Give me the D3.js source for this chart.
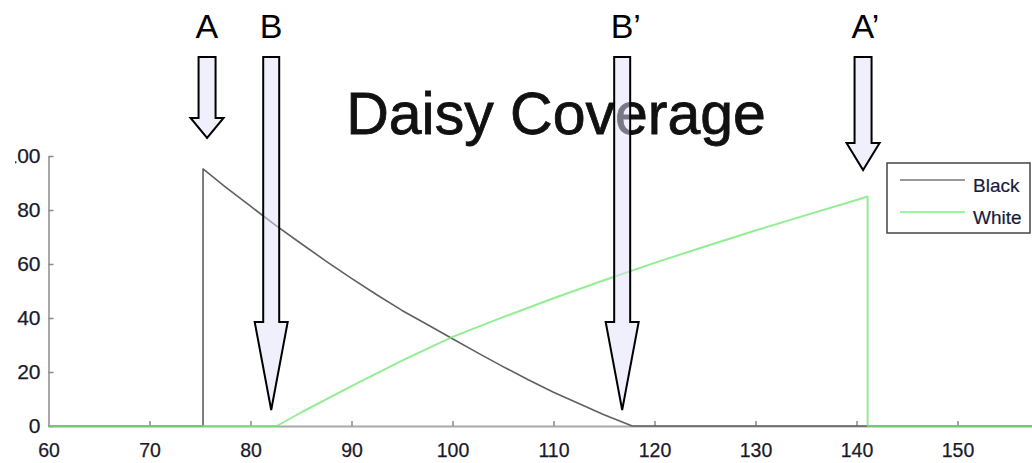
<!DOCTYPE html>
<html>
<head>
<meta charset="utf-8">
<script src="https://cdn.jsdelivr.net/npm/d3@7"></script>
<style>
  html, body { margin: 0; padding: 0; background: #fff; overflow: hidden; }
  svg { display: block; font-family: "Liberation Sans", Arial, Helvetica, sans-serif; }
</style>
</head>
<body>
<svg id="chart" width="1032" height="463"></svg>
<script>
// ---- data ----
const blackX = [60, 75.3, 75.3, 77.5, 80, 82.5, 85, 87.5, 90, 92.5, 95, 97.5, 100, 102.5, 105, 107.5, 110, 112.5, 115, 117.8, 160];
const blackY = [0, 0, 95.2, 88.6, 81.4, 74.3, 67.6, 61.0, 54.7, 48.6, 42.8, 37.6, 32.3, 27.1, 22.0, 17.1, 12.5, 8.3, 4.2, 0, 0];
const whiteX = [60, 82.6, 85, 90, 95, 100, 105, 110, 115, 120, 125, 130, 135, 140, 141.1, 141.1, 160];
const whiteY = [0, 0, 5.0, 14.8, 24.2, 33.0, 40.3, 47.3, 54.0, 60.4, 66.5, 72.4, 78.1, 83.7, 85.0, 0, 0];
const seriesNames = ["Black", "White"];
const xTicks = [60, 70, 80, 90, 100, 110, 120, 130, 140, 150];
const yTicks = [0, 20, 40, 60, 80, 100];
const arrowLabels = ["A", "B", "B\u2019", "A\u2019"];
const arrowAt = [75.7, 82.05, 116.8, 140.65];
const titleText = "Daisy Coverage";

// ---- layout ----
const svg = d3.select("#chart");
const x = d3.scaleLinear().domain([60, 160]).range([48.5, 1058.5]);
const y = d3.scaleLinear().domain([0, 100]).range([426, 156]);

// the reference picture is cropped at its left edge
svg.append("defs").append("clipPath").attr("id", "crop")
  .append("rect").attr("x", 15).attr("y", 0).attr("width", 1032).attr("height", 463);
const root = svg.append("g").attr("clip-path", "url(#crop)");

// axes
const xAxis = d3.axisBottom(x).tickValues(xTicks).tickSizeInner(-5).tickSizeOuter(0).tickPadding(17.5);
const yAxis = d3.axisLeft(y).tickValues(yTicks).tickSizeInner(-5).tickSizeOuter(0).tickPadding(8);

const gx = root.append("g").attr("transform", `translate(0,${y(0)})`).call(xAxis);
const gy = root.append("g").attr("transform", `translate(${x(60)},0)`).call(yAxis);
[gx, gy].forEach(g => {
  g.select(".domain").attr("stroke", "#a8a8a8").attr("stroke-width", 2);
  g.selectAll(".tick line").attr("stroke", "#888").attr("stroke-width", 1.5);
  g.selectAll(".tick text").attr("fill", "#1a1a2a").attr("font-size", 21)
    .attr("stroke", "#1a1a2a").attr("stroke-width", 0.25)
    .attr("font-family", "'Liberation Sans', Arial, sans-serif");
});
gx.selectAll(".tick text").attr("font-size", 19.5);

// series
const line = d3.line().x(d => x(d[0])).y(d => y(d[1]));
const blackPts = blackX.map((v, i) => [v, blackY[i]]);
const whitePts = whiteX.map((v, i) => [v, whiteY[i]]);

root.append("path").datum(blackPts).attr("d", line)
  .attr("fill", "none").attr("stroke", "#606060").attr("stroke-width", 1.6)
  .attr("stroke-linejoin", "round");
root.append("path").datum(whitePts).attr("d", line)
  .attr("fill", "none").attr("stroke", "#6ee86e").attr("stroke-width", 2)
  .attr("stroke-opacity", 0.75).attr("stroke-linejoin", "round");

// title
root.append("text").attr("x", 556).attr("y", 134).attr("text-anchor", "middle")
  .attr("font-size", 59).attr("fill", "#111").attr("stroke", "#111").attr("stroke-width", 0.8)
  .text(titleText);

// legend
const lg = root.append("g");
lg.append("rect").attr("x", 887).attr("y", 163).attr("width", 143).attr("height", 70)
  .attr("fill", "#fff").attr("stroke", "#444").attr("stroke-width", 1.5);
const legColors = ["#999", "#a0f5a0"];
seriesNames.forEach((n, i) => {
  const yy = 180 + i * 32;
  lg.append("line").attr("x1", 900).attr("x2", 965).attr("y1", yy).attr("y2", yy)
    .attr("stroke", legColors[i]).attr("stroke-width", 2);
  lg.append("text").attr("x", 973).attr("y", yy + 12).attr("font-size", 19)
    .attr("fill", "#1a1a3a").attr("stroke", "#1a1a3a").attr("stroke-width", 0.2).text(n);
});

// arrows
const arrowSpec = [
  { head: 118, tip: 138, shaftW: 17, headW: 33 },
  { head: 322, tip: 410, shaftW: 16, headW: 33 },
  { head: 322, tip: 410, shaftW: 16, headW: 33 },
  { head: 143, tip: 170, shaftW: 17, headW: 33 }
];
arrowAt.forEach((v, i) => {
  const cx = x(v), s = arrowSpec[i], top = 57;
  const hs = s.shaftW / 2, hh = s.headW / 2;
  const p = [[cx - hs, top], [cx + hs, top], [cx + hs, s.head], [cx + hh, s.head],
             [cx, s.tip], [cx - hh, s.head], [cx - hs, s.head]];
  root.append("path").attr("d", "M" + p.map(q => q.join(",")).join("L") + "Z")
    .attr("fill", "rgb(225,225,249)").attr("fill-opacity", 0.5)
    .attr("stroke", "#000").attr("stroke-width", 2).attr("stroke-linejoin", "miter");
  root.append("text").attr("x", cx - 11.5).attr("y", 38).attr("font-size", 34)
    .attr("fill", "#000").text(arrowLabels[i]);
});
</script>
</body>
</html>
